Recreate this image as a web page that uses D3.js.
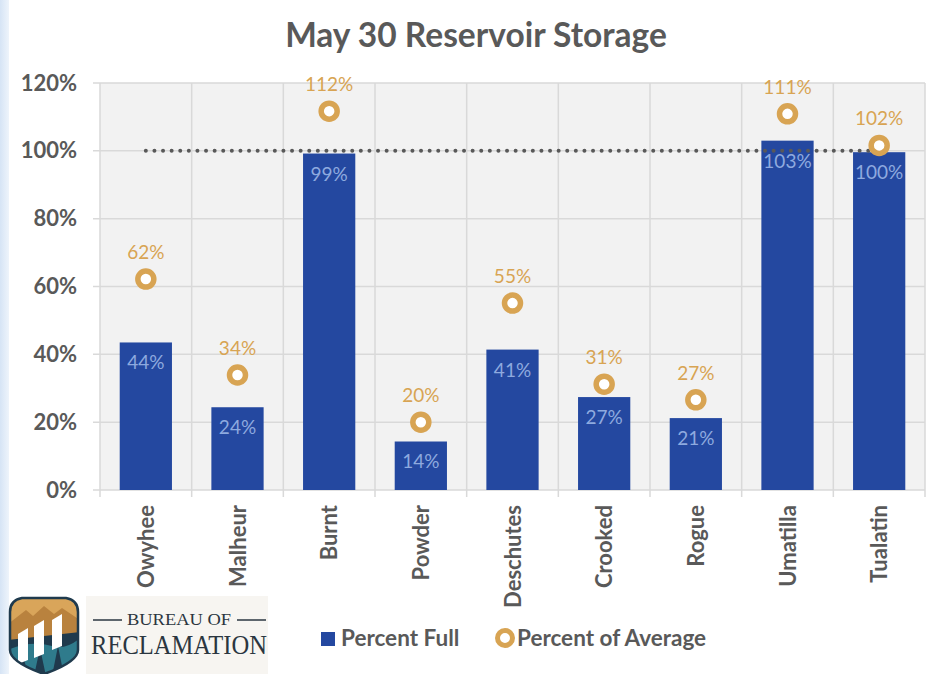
<!DOCTYPE html>
<html>
<head>
<meta charset="utf-8">
<script src="https://cdn.jsdelivr.net/npm/d3@7"></script>
<style>
  body { margin: 0; background: #fff; }
  svg { display: block; }
</style>
</head>
<body>
<div id="chart"></div>
<script>
// reservoirs and values
const reservoirs = ["Owyhee", "Malheur", "Burnt", "Powder", "Deschutes", "Crooked", "Rogue", "Umatilla", "Tualatin"];
const percentFull = [0.435, 0.244, 0.992, 0.143, 0.414, 0.274, 0.212, 1.030, 0.996];
const percentOfAverage = [0.622, 0.339, 1.117, 0.200, 0.551, 0.312, 0.266, 1.109, 1.016];
const yTicks = [0, 0.2, 0.4, 0.6, 0.8, 1.0, 1.2];

const width = 929, height = 674;
const blue = "#2448a0", gold = "#d8a453", grey = "#595959", grid = "#d9d9d9";
const font = "Lato, 'Open Sans', sans-serif";

const svg = d3.select("#chart").append("svg")
    .attr("width", width)
    .attr("height", height)
    .style("font-family", font);

// light blue strip on the left edge
const defs = svg.append("defs");
const grad = defs.append("linearGradient").attr("id", "edge").attr("x1", 0).attr("x2", 1);
grad.append("stop").attr("offset", 0).attr("stop-color", "#d6e4f5");
grad.append("stop").attr("offset", 1).attr("stop-color", "#eef4fb");
svg.append("rect").attr("x", 0).attr("y", 0).attr("width", 9).attr("height", height).attr("fill", "url(#edge)");

const x = d3.scaleBand().domain(reservoirs).range([100, 925]);
const y = d3.scaleLinear().domain([0, 1.2]).range([490, 83]);
const fmt = d3.format(".0%");

// plot area
svg.append("rect")
    .attr("x", 100).attr("y", y(1.2))
    .attr("width", 825).attr("height", y(0) - y(1.2))
    .attr("fill", "#f2f2f2");

// horizontal gridlines
svg.append("g").selectAll("line")
    .data(yTicks)
    .join("line")
    .attr("x1", 93).attr("x2", 925)
    .attr("y1", d => y(d)).attr("y2", d => y(d))
    .attr("stroke", grid).attr("stroke-width", 1.5);

// vertical category separators
const seps = reservoirs.map(r => x(r)).concat([x.range()[1]]);
svg.append("g").selectAll("line")
    .data(seps)
    .join("line")
    .attr("x1", d => d).attr("x2", d => d)
    .attr("y1", y(1.2)).attr("y2", y(0) + 7)
    .attr("stroke", grid).attr("stroke-width", 1.5);

// y tick labels
svg.append("g").selectAll("text")
    .data(yTicks)
    .join("text")
    .attr("x", 77)
    .attr("y", d => y(d) + 7.5)
    .attr("text-anchor", "end")
    .attr("fill", grey)
    .style("font-size", "22px")
    .style("font-weight", "bold")
    .text(d => fmt(d));

// bars
const barW = x.bandwidth() * 0.57;
svg.append("g").selectAll("rect")
    .data(percentFull)
    .join("rect")
    .attr("x", (d, i) => x(reservoirs[i]) + (x.bandwidth() - barW) / 2)
    .attr("y", d => y(d))
    .attr("width", barW)
    .attr("height", d => y(0) - y(d))
    .attr("fill", blue);

svg.append("g").selectAll("text")
    .data(percentFull)
    .join("text")
    .attr("x", (d, i) => x(reservoirs[i]) + x.bandwidth() / 2)
    .attr("y", d => y(d) + 27)
    .attr("text-anchor", "middle")
    .attr("fill", "#8eaadf")
    .style("font-size", "19px")
    .text(d => fmt(d));

// 100% dotted reference
svg.append("line")
    .attr("x1", x(reservoirs[0]) + x.bandwidth() / 2)
    .attr("x2", x(reservoirs[reservoirs.length - 1]) + x.bandwidth() / 2)
    .attr("y1", y(1)).attr("y2", y(1))
    .attr("stroke", grey)
    .attr("stroke-width", 4)
    .attr("stroke-linecap", "round")
    .attr("stroke-dasharray", "0 8.6");

// percent of average markers
svg.append("g").selectAll("circle")
    .data(percentOfAverage)
    .join("circle")
    .attr("cx", (d, i) => x(reservoirs[i]) + x.bandwidth() / 2)
    .attr("cy", d => y(d))
    .attr("r", 8)
    .attr("fill", "#fff")
    .attr("stroke", gold)
    .attr("stroke-width", 5.5);

svg.append("g").selectAll("text")
    .data(percentOfAverage)
    .join("text")
    .attr("x", (d, i) => x(reservoirs[i]) + x.bandwidth() / 2)
    .attr("y", d => y(d) - 20)
    .attr("text-anchor", "middle")
    .attr("fill", gold)
    .style("font-size", "19px")
    .text(d => fmt(d));

// category labels
svg.append("g").selectAll("text")
    .data(reservoirs)
    .join("text")
    .attr("transform", d => `translate(${x(d) + x.bandwidth() / 2 + 8},505) rotate(-90)`)
    .attr("text-anchor", "end")
    .attr("fill", grey)
    .style("font-size", "22px")
    .style("font-weight", "bold")
    .text(d => d);

// title
svg.append("text")
    .attr("x", 476).attr("y", 47)
    .attr("text-anchor", "middle")
    .attr("fill", grey)
    .style("font-size", "33.5px")
    .style("font-weight", "bold")
    .text("May 30 Reservoir Storage");

// legend
const legend = svg.append("g").style("font-size", "22.5px").style("font-weight", "bold").attr("fill", grey);
legend.append("rect").attr("x", 321).attr("y", 632).attr("width", 14).attr("height", 14).attr("fill", blue);
legend.append("text").attr("x", 341).attr("y", 646).text("Percent Full");
legend.append("circle").attr("cx", 505).attr("cy", 638).attr("r", 7.5)
    .attr("fill", "#fff").attr("stroke", gold).attr("stroke-width", 5);
legend.append("text").attr("x", 517).attr("y", 646).text("Percent of Average");

// Bureau of Reclamation logo (rough)
const logo = svg.append("g");
logo.append("rect").attr("x", 86).attr("y", 596).attr("width", 182).attr("height", 78).attr("fill", "#f7f5f1");
const shield = "M10,612 Q10,600 22,598 L66,598 Q78,600 78,612 L78,650 Q78,662 44,674 Q10,662 10,650 Z";
defs.append("clipPath").attr("id", "shieldClip").append("path").attr("d", shield);
const sh = logo.append("g").attr("clip-path", "url(#shieldClip)");
sh.append("rect").attr("x", 8).attr("y", 596).attr("width", 72).attr("height", 80).attr("fill", "#1f3a4d");
sh.append("path").attr("d", "M8,596 L80,596 L80,628 L8,636 Z").attr("fill", "#d9a55a");
sh.append("path").attr("d", "M8,624 L26,610 L33,616 L44,606 L54,614 L62,608 L80,620 L80,632 L8,640 Z").attr("fill", "#b9823e");
sh.append("path").attr("d", "M8,650 Q30,640 52,646 Q66,650 80,638 L80,676 L8,676 Z").attr("fill", "#2f7b8c");
sh.append("path").attr("d", "M16,676 L22,650 L28,676 M34,676 L40,648 L46,676 M52,676 L58,646 L64,676").attr("fill", "#1f3a4d");
sh.append("path").attr("d", "M18,634 L28,628 L28,660 L18,664 Z").attr("fill", "#fff");
sh.append("path").attr("d", "M34,626 L44,620 L44,654 L34,658 Z").attr("fill", "#fff");
sh.append("path").attr("d", "M52,620 L62,614 L62,646 L52,650 Z").attr("fill", "#fff");
logo.append("path").attr("d", shield).attr("fill", "none").attr("stroke", "#1f3a4d").attr("stroke-width", 2.5);

const serif = "'Liberation Serif', 'DejaVu Serif', serif";
logo.append("line").attr("x1", 93).attr("x2", 122).attr("y1", 620).attr("y2", 620).attr("stroke", "#2b3640").attr("stroke-width", 1.5);
logo.append("line").attr("x1", 237).attr("x2", 266).attr("y1", 620).attr("y2", 620).attr("stroke", "#2b3640").attr("stroke-width", 1.5);
logo.append("text").attr("x", 179).attr("y", 625).attr("text-anchor", "middle")
    .attr("fill", "#2b3640").style("font-family", serif).style("font-size", "17px")
    .attr("textLength", 104).attr("lengthAdjust", "spacingAndGlyphs").text("BUREAU OF");
logo.append("text").attr("x", 179).attr("y", 654).attr("text-anchor", "middle")
    .attr("fill", "#2b3640").style("font-family", serif).style("font-size", "28px")
    .attr("textLength", 176).attr("lengthAdjust", "spacingAndGlyphs").text("RECLAMATION");
</script>
</body>
</html>
